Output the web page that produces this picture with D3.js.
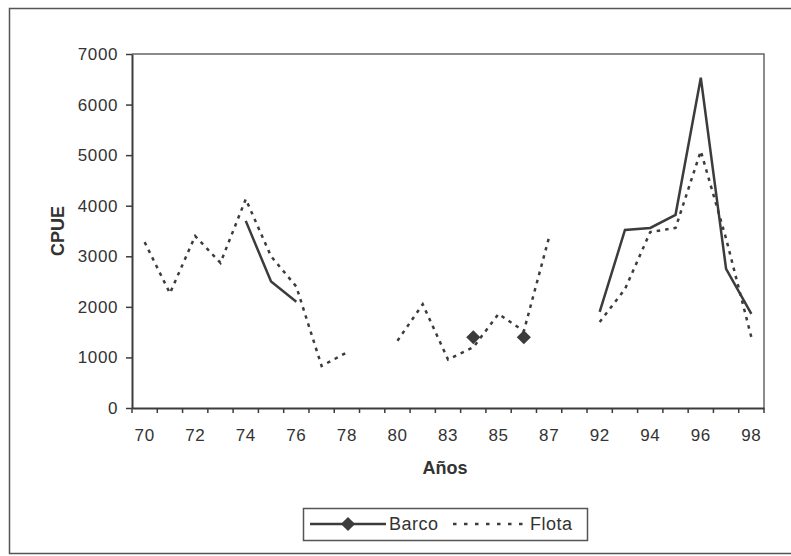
<!DOCTYPE html>
<html>
<head>
<meta charset="utf-8">
<script src="https://cdn.jsdelivr.net/npm/d3@7"></script>
<style>
  body { margin: 0; background: #fff; }
  text { font-family: "Liberation Sans", Arial, sans-serif; fill: #333; }
</style>
</head>
<body>
<div id="chart"></div>
<script>
// categories (years), only every second label is shown
const years = ["70","71","72","73","74","75","76","77","78","79","80","82","83","84","85","86","87","91","92","93","94","95","96","97","98"];
const barco = [null,null,null,null,3700,2500,2100,null,null,null,null,null,null,1400,null,1400,null,null,1900,3520,3560,3820,6530,2750,1860];
const flota = [3280,2270,3400,2870,4130,3000,2400,830,1100,null,1330,2050,960,1200,1860,1520,3380,null,1700,2350,3480,3560,5080,3350,1400];
const yTicks = [0,1000,2000,3000,4000,5000,6000,7000];

const W = 791, H = 556;
const plot = {left: 132, right: 764, top: 54, bottom: 408};
const ink = "#3c3c3c";

const svg = d3.select("#chart").append("svg")
  .attr("width", W).attr("height", H);

// outer frame (right edge falls outside the picture)
svg.append("rect")
  .attr("x", 9.5).attr("y", 8.5)
  .attr("width", 800).attr("height", 545)
  .attr("fill", "none").attr("stroke", "#555").attr("stroke-width", 1.5);

const x = d3.scaleBand()
  .domain(years)
  .range([plot.left, plot.right]);

const y = d3.scaleLinear()
  .domain([0, 7000])
  .range([plot.bottom, plot.top]);

// plot area border (top + right)
svg.append("path")
  .attr("d", `M${plot.left},${plot.top}H${plot.right}V${plot.bottom}`)
  .attr("fill", "none").attr("stroke", "#666").attr("stroke-width", 1.5);

// y axis
const yAxis = svg.append("g")
  .attr("transform", `translate(${plot.left},0)`)
  .call(d3.axisLeft(y).tickValues(yTicks).tickFormat(d3.format("d"))
    .tickSize(6).tickPadding(8).tickSizeOuter(0));
yAxis.select(".domain").attr("stroke", ink).attr("stroke-width", 2);
yAxis.selectAll(".tick line").attr("stroke", ink).attr("stroke-width", 1.5);
yAxis.selectAll(".tick text")
  .style("font-size", "17px").style("letter-spacing", "0.6px").attr("fill", "#333");

// x axis
const xAxis = svg.append("g")
  .attr("transform", `translate(0,${plot.bottom})`)
  .call(d3.axisBottom(x).tickSize(0).tickPadding(21).tickSizeOuter(0)
    .tickFormat((d, i) => i % 2 === 0 ? d : ""));
xAxis.select(".domain").attr("stroke", ink).attr("stroke-width", 2);
xAxis.selectAll(".tick text")
  .style("font-size", "17px").style("letter-spacing", "0.6px").attr("fill", "#333");

// category boundary ticks
const bounds = years.map(d => x(d)).concat([x.range()[1]]);
svg.append("g").selectAll("line")
  .data(bounds)
  .join("line")
  .attr("x1", d => d).attr("x2", d => d)
  .attr("y1", plot.bottom).attr("y2", plot.bottom + 5)
  .attr("stroke", ink).attr("stroke-width", 1.5);

// axis titles
svg.append("text")
  .attr("transform", `translate(64,${(plot.top + plot.bottom) / 2}) rotate(-90)`)
  .attr("text-anchor", "middle")
  .style("font-size", "18px").style("font-weight", "bold")
  .text("CPUE");

svg.append("text")
  .attr("x", (plot.left + plot.right) / 2 - 3).attr("y", 474)
  .attr("text-anchor", "middle")
  .style("font-size", "18px").style("font-weight", "bold")
  .text("Años");

const cx = (d, i) => x(years[i]) + x.bandwidth() / 2;

const line = d3.line()
  .defined(d => d != null)
  .x(cx)
  .y(d => y(d));

// Flota (dotted)
svg.append("path")
  .datum(flota)
  .attr("d", line)
  .attr("fill", "none")
  .attr("stroke", ink)
  .attr("stroke-width", 2.5)
  .attr("stroke-dasharray", "3.5,5");

// Barco (solid)
svg.append("path")
  .datum(barco)
  .attr("d", line)
  .attr("fill", "none")
  .attr("stroke", ink)
  .attr("stroke-width", 2.5);

// Barco markers on isolated points
const isolated = barco.map((d, i) => ({v: d, i}))
  .filter(p => p.v != null && barco[p.i - 1] == null && barco[p.i + 1] == null);
const diamond = d3.symbol(d3.symbolSquare, 100);
svg.append("g").selectAll("path")
  .data(isolated)
  .join("path")
  .attr("d", diamond)
  .attr("transform", p => `translate(${cx(null, p.i)},${y(p.v)}) rotate(45)`)
  .attr("fill", ink);

// legend
const lg = svg.append("g");
lg.append("rect")
  .attr("x", 303.5).attr("y", 508.5).attr("width", 284).attr("height", 32)
  .attr("fill", "none").attr("stroke", "#555").attr("stroke-width", 1.5);
lg.append("line")
  .attr("x1", 310).attr("x2", 386).attr("y1", 524).attr("y2", 524)
  .attr("stroke", ink).attr("stroke-width", 2.5);
lg.append("path")
  .attr("d", diamond)
  .attr("transform", "translate(348,524) rotate(45)")
  .attr("fill", ink);
lg.append("text")
  .attr("x", 389).attr("y", 530)
  .style("font-size", "18px").style("letter-spacing", "0.5px")
  .text("Barco");
lg.append("line")
  .attr("x1", 453).attr("x2", 524).attr("y1", 524).attr("y2", 524)
  .attr("stroke", ink).attr("stroke-width", 2.5)
  .attr("stroke-dasharray", "3.5,7.5");
lg.append("text")
  .attr("x", 530).attr("y", 530)
  .style("font-size", "18px").style("letter-spacing", "0.5px")
  .text("Flota");
</script>
</body>
</html>
